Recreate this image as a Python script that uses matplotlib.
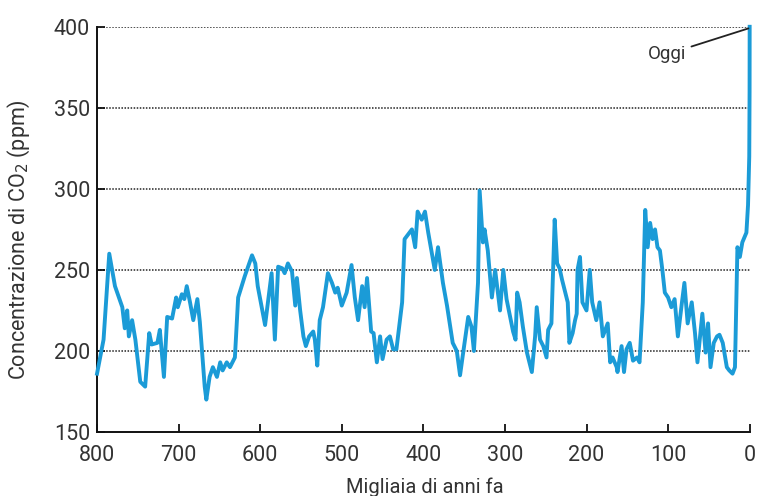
import numpy as np
import matplotlib
matplotlib.use("Agg")
from matplotlib import pyplot as plt

# CO2 from the ice cores (thousands of years ago, ppm)
kyr_ago = [800, 792, 785, 778, 769, 766, 763, 761, 757, 753, 747, 741, 736, 733,
           726, 723, 718, 714, 708, 703, 701, 696, 693, 690, 686, 682, 677, 674,
           668, 666, 662, 658, 653, 649, 646, 641, 637, 631, 627, 619, 610, 606,
           603, 594, 586, 582, 578, 573, 570, 566, 561, 557, 555, 551, 547, 544,
           540, 535, 533, 530, 527, 523, 517, 512, 508, 505, 500, 494, 488, 484,
           480, 475, 472, 469, 464, 461, 457, 453, 450, 445, 441, 437, 433, 426,
           423, 417, 414, 410, 407, 402, 398, 394, 386, 382, 376, 371, 364, 359,
           355, 352, 345, 341, 338, 333, 331, 327, 325, 321, 316, 312, 306, 302,
           298, 290, 287, 285, 282, 278, 273, 267, 263, 261, 257, 253, 249, 247,
           243, 239, 236, 233, 230, 227, 223, 221, 217, 214, 212, 211, 208, 205,
           200, 196, 193, 188, 184, 180, 174, 171, 168, 163, 162, 157, 154, 151,
           147, 143, 138, 135, 131, 128, 125, 122, 119, 116, 113, 110, 107, 104,
           100, 96, 92, 88, 83, 80, 76, 71, 67, 64, 58, 54, 51, 48, 44, 40,
           37, 33, 28, 25, 21, 18, 15, 12, 9, 4, 2, 0.5, 0.1, 0]
co2_ppm = [186, 207, 260, 240, 227, 214, 225, 209, 219, 207, 181, 178, 211, 204,
           205, 213, 184, 221, 220, 233, 227, 235, 232, 240, 230, 219, 232, 218,
           178, 170, 184, 190, 184, 193, 188, 193, 190, 196, 233, 246, 259, 254,
           240, 216, 248, 207, 252, 251, 248, 254, 249, 228, 245, 225, 209, 203,
           209, 212, 207, 191, 219, 227, 248, 242, 236, 239, 228, 236, 253, 233,
           219, 240, 227, 245, 212, 211, 193, 209, 195, 207, 209, 201, 201, 230,
           269, 273, 275, 264, 286, 281, 286, 273, 250, 264, 242, 228, 205, 200,
           185, 196, 221, 215, 200, 242, 299, 267, 275, 262, 233, 250, 225, 250,
           232, 212, 207, 236, 230, 215, 199, 187, 209, 227, 207, 203, 196, 213,
           217, 281, 254, 251, 244, 238, 230, 205, 211, 219, 223, 250, 258, 230,
           225, 250, 230, 219, 230, 209, 217, 193, 196, 190, 187, 203, 187, 201,
           205, 194, 196, 193, 230, 287, 264, 279, 269, 275, 264, 262, 250, 236,
           233, 227, 232, 209, 230, 242, 217, 230, 211, 193, 223, 199, 217, 190,
           205, 209, 210, 205, 190, 188, 186, 190, 264, 258, 267, 273, 290, 320,
           360, 400]

x_ticks = [800, 700, 600, 500, 400, 300, 200, 100, 0]
y_ticks = [150, 200, 250, 300, 350, 400]

line_color = "#1b9bd7"
text_color = "#333333"

plt.rcParams['font.family'] = ['Roboto', 'DejaVu Sans']

fig = plt.figure(figsize=(7.58, 4.96), dpi=100)
ax = fig.add_axes([0.128, 0.129, 0.861, 0.817])

# dotted guide lines
for y in y_ticks[1:]:
    ax.axhline(y, color="#222222", linestyle=(0, (1, 1)), linewidth=1.1, zorder=1)

ax.plot(kyr_ago, co2_ppm, color=line_color, linewidth=2.8, zorder=3,
        solid_joinstyle="round", clip_on=False)

ax.set_xlim(800, 0)
ax.set_ylim(150, 400)
ax.set_xticks(x_ticks)
ax.set_yticks(y_ticks)
ax.tick_params(axis="both", direction="in", length=6, width=1.3,
               labelsize=15.5, labelcolor=text_color, color="#111111")
ax.tick_params(axis="x", pad=9)
ax.tick_params(axis="y", pad=5)

for side in ["top", "right"]:
    ax.spines[side].set_visible(False)
for side in ["left", "bottom"]:
    ax.spines[side].set_linewidth(1.4)
    ax.spines[side].set_color("#111111")

ax.set_ylabel("Concentrazione di CO$_2$ (ppm)", fontsize=15.5, color=text_color)
ax.yaxis.set_label_coords(-0.1, 0.474)
ax.set_xlabel("Migliaia di anni fa", fontsize=14.5, color=text_color)
ax.xaxis.set_label_coords(0.502, -0.112)

# label for today
ax.annotate("Oggi", xy=(1.5, 399), xytext=(78, 383), fontsize=13.5, color=text_color,
            ha="right", va="center",
            arrowprops=dict(arrowstyle="-", color="#222222", lw=1.3,
                            shrinkA=2, shrinkB=0))

fig.savefig("out.png", dpi=100)
